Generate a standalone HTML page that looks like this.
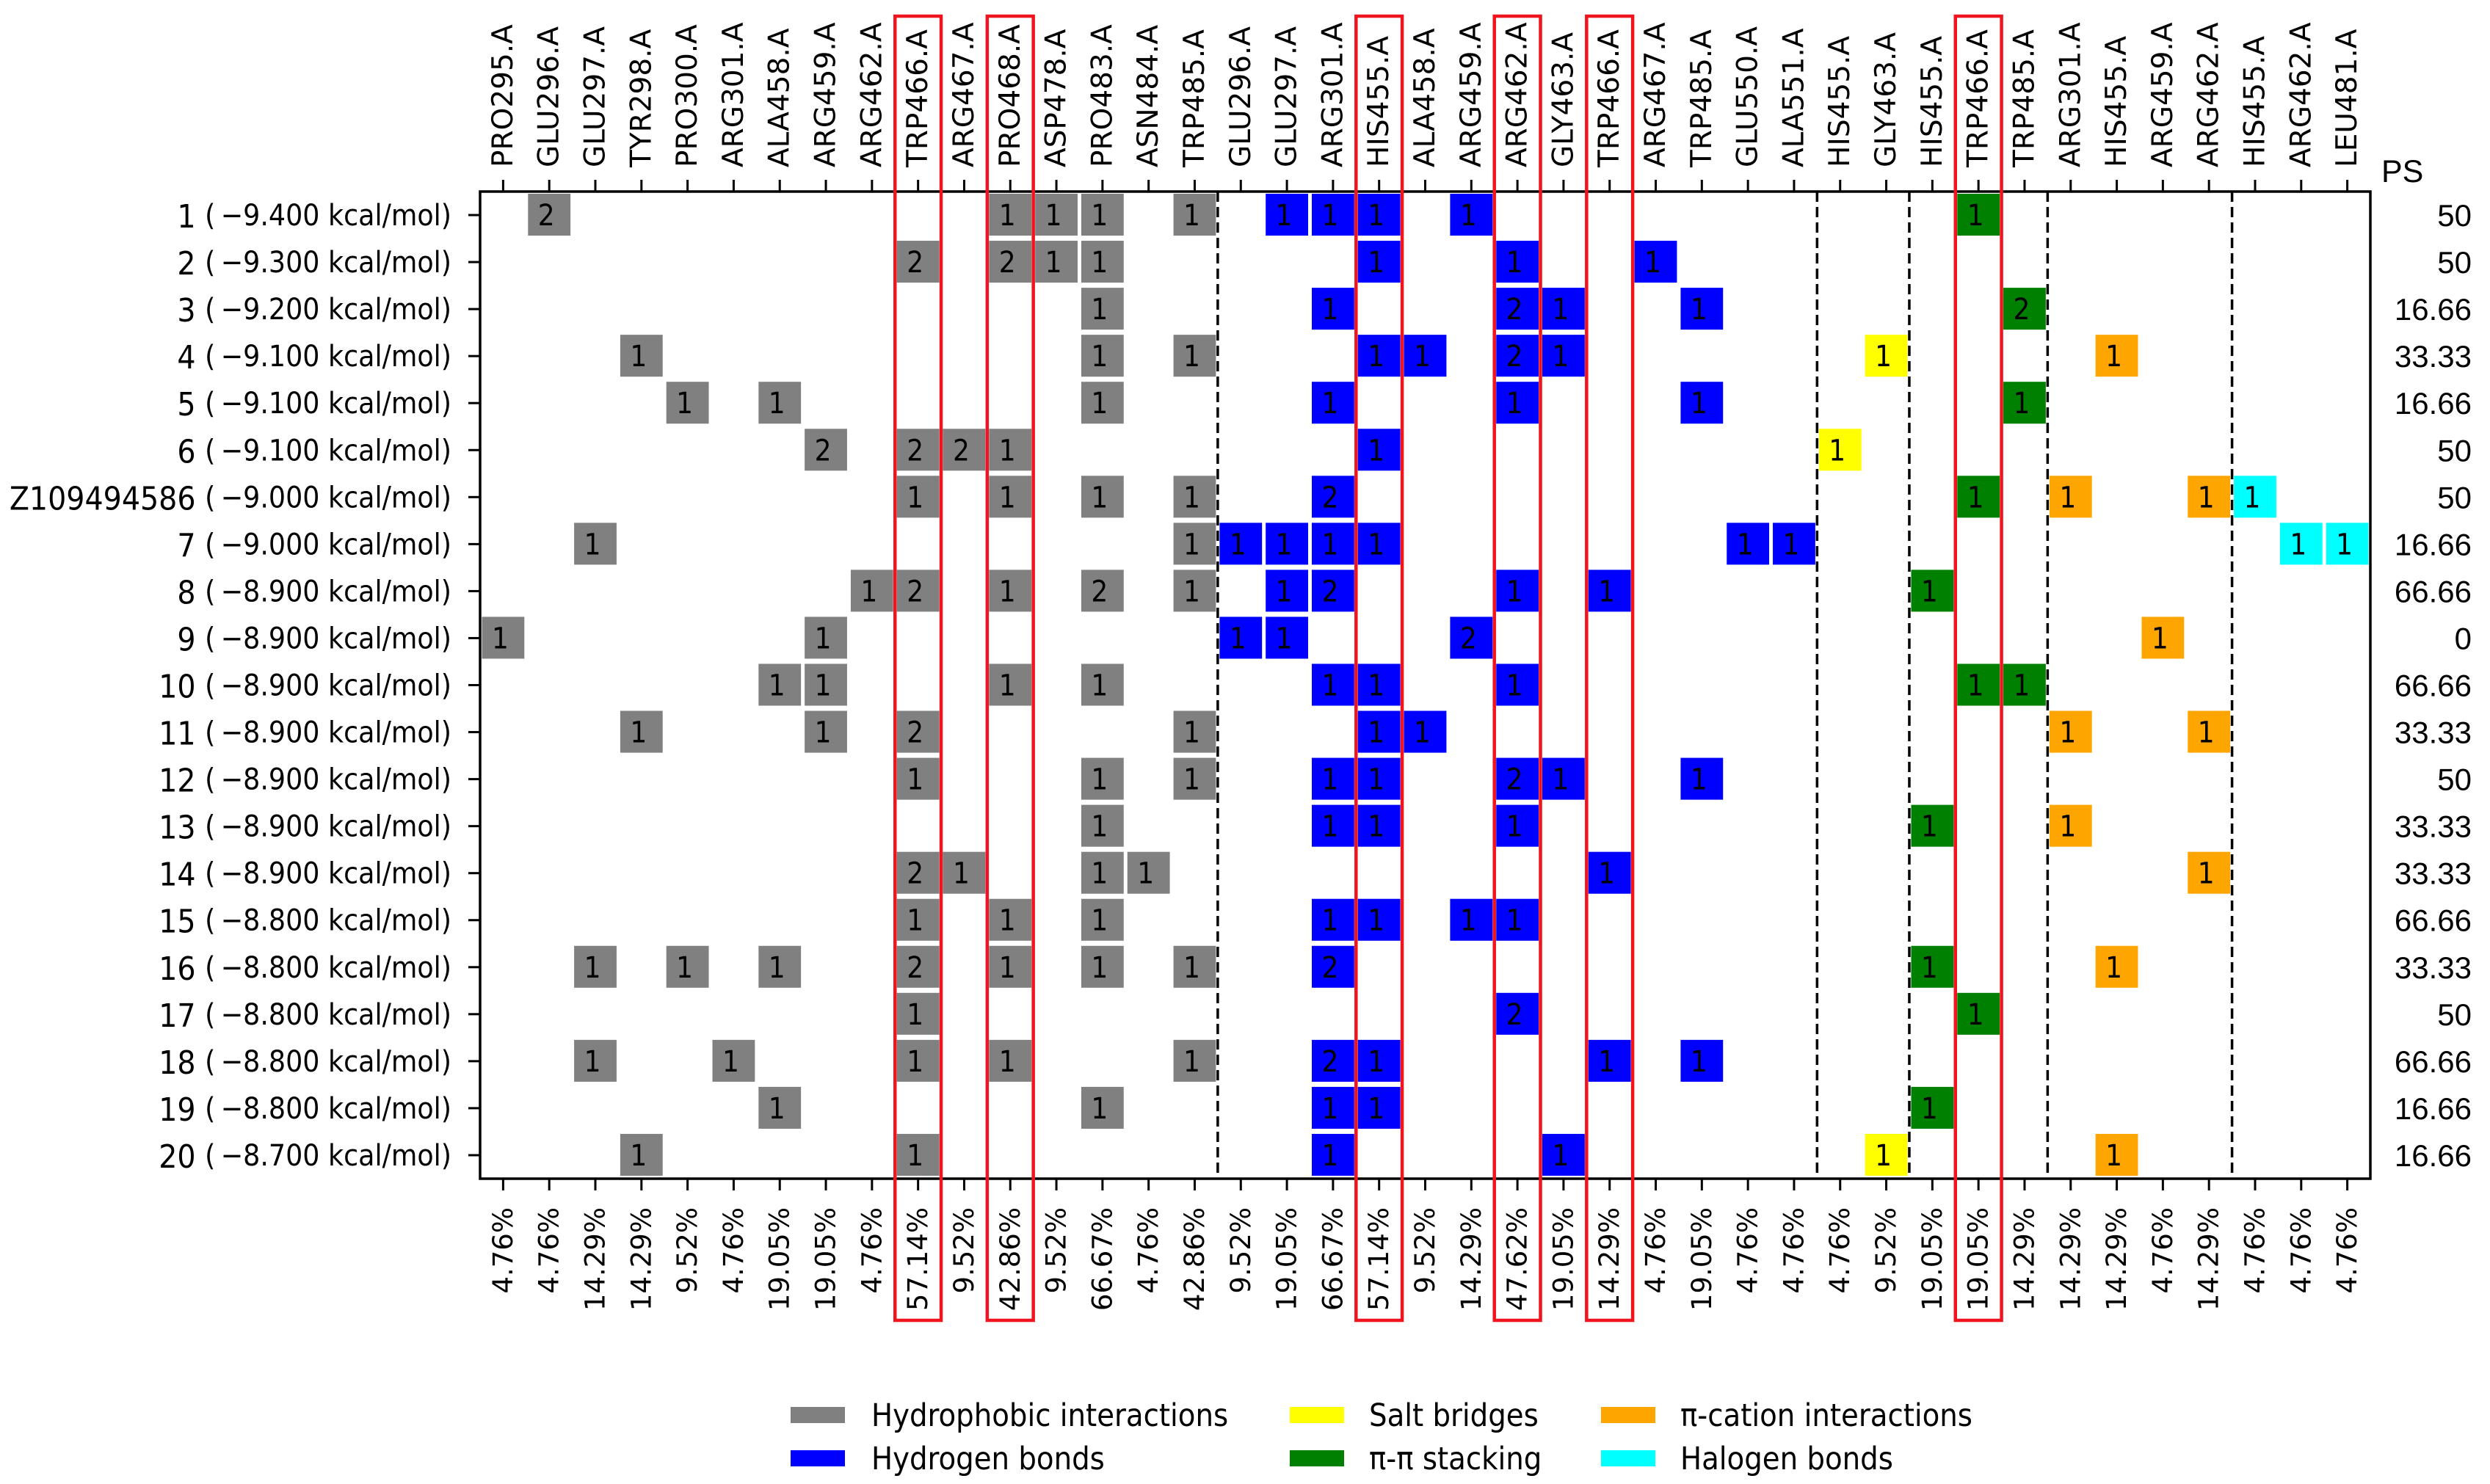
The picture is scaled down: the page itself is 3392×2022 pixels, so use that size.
<!DOCTYPE html>
<html><head><meta charset="utf-8"><style>
html,body{margin:0;padding:0;background:#fff}
svg{display:block}
text{font-family:"DejaVu Sans","Liberation Sans",sans-serif;fill:#000}
</style></head><body>
<svg id="chart" xmlns="http://www.w3.org/2000/svg" width="3392" height="2022" viewBox="0 0 3392 2022">
<g id="plot"></g>
</svg>
<script>
const residues = ["PRO295.A","GLU296.A","GLU297.A","TYR298.A","PRO300.A","ARG301.A","ALA458.A","ARG459.A","ARG462.A","TRP466.A","ARG467.A","PRO468.A","ASP478.A","PRO483.A","ASN484.A","TRP485.A",
"GLU296.A","GLU297.A","ARG301.A","HIS455.A","ALA458.A","ARG459.A","ARG462.A","GLY463.A","TRP466.A","ARG467.A","TRP485.A","GLU550.A","ALA551.A",
"HIS455.A","GLY463.A","HIS455.A","TRP466.A","TRP485.A","ARG301.A","HIS455.A","ARG459.A","ARG462.A","HIS455.A","ARG462.A","LEU481.A"];
const groupSizes = [16,13,2,3,4,3];
const groupNames = ["Hydrophobic interactions","Hydrogen bonds","Salt bridges","π-π stacking","π-cation interactions","Halogen bonds"];
const groupColors = ["#808080","#0000ff","#ffff00","#008000","#ffa500","#00ffff"];
const percentLabels = ["4.76%","4.76%","14.29%","14.29%","9.52%","4.76%","19.05%","19.05%","4.76%","57.14%","9.52%","42.86%","9.52%","66.67%","4.76%","42.86%",
"9.52%","19.05%","66.67%","57.14%","9.52%","14.29%","47.62%","19.05%","14.29%","4.76%","19.05%","4.76%","4.76%",
"4.76%","9.52%","19.05%","19.05%","14.29%","14.29%","14.29%","4.76%","14.29%","4.76%","4.76%","4.76%"];
const highlighted = [9,11,19,22,24,32];
const rowIds = ["1","2","3","4","5","6","Z109494586","7","8","9","10","11","12","13","14","15","16","17","18","19","20"];
const rowEnergies = ["−9.400","−9.300","−9.200","−9.100","−9.100","−9.100","−9.000","−9.000","−8.900","−8.900","−8.900","−8.900","−8.900","−8.900","−8.900","−8.800","−8.800","−8.800","−8.800","−8.800","−8.700"];
const psValues = ["50","50","16.66","33.33","16.66","50","50","16.66","66.66","0","66.66","33.33","50","33.33","33.33","66.66","33.33","50","66.66","16.66","16.66"];
// [row, column, count]
const cells = [
[0,1,2],[0,11,1],[0,12,1],[0,13,1],[0,15,1],[0,17,1],[0,18,1],[0,19,1],[0,21,1],[0,32,1],
[1,9,2],[1,11,2],[1,12,1],[1,13,1],[1,19,1],[1,22,1],[1,25,1],
[2,13,1],[2,18,1],[2,22,2],[2,23,1],[2,26,1],[2,33,2],
[3,3,1],[3,13,1],[3,15,1],[3,19,1],[3,20,1],[3,22,2],[3,23,1],[3,30,1],[3,35,1],
[4,4,1],[4,6,1],[4,13,1],[4,18,1],[4,22,1],[4,26,1],[4,33,1],
[5,7,2],[5,9,2],[5,10,2],[5,11,1],[5,19,1],[5,29,1],
[6,9,1],[6,11,1],[6,13,1],[6,15,1],[6,18,2],[6,32,1],[6,34,1],[6,37,1],[6,38,1],
[7,2,1],[7,15,1],[7,16,1],[7,17,1],[7,18,1],[7,19,1],[7,27,1],[7,28,1],[7,39,1],[7,40,1],
[8,8,1],[8,9,2],[8,11,1],[8,13,2],[8,15,1],[8,17,1],[8,18,2],[8,22,1],[8,24,1],[8,31,1],
[9,0,1],[9,7,1],[9,16,1],[9,17,1],[9,21,2],[9,36,1],
[10,6,1],[10,7,1],[10,11,1],[10,13,1],[10,18,1],[10,19,1],[10,22,1],[10,32,1],[10,33,1],
[11,3,1],[11,7,1],[11,9,2],[11,15,1],[11,19,1],[11,20,1],[11,34,1],[11,37,1],
[12,9,1],[12,13,1],[12,15,1],[12,18,1],[12,19,1],[12,22,2],[12,23,1],[12,26,1],
[13,13,1],[13,18,1],[13,19,1],[13,22,1],[13,31,1],[13,34,1],
[14,9,2],[14,10,1],[14,13,1],[14,14,1],[14,24,1],[14,37,1],
[15,9,1],[15,11,1],[15,13,1],[15,18,1],[15,19,1],[15,21,1],[15,22,1],
[16,2,1],[16,4,1],[16,6,1],[16,9,2],[16,11,1],[16,13,1],[16,15,1],[16,18,2],[16,31,1],[16,35,1],
[17,9,1],[17,22,2],[17,32,1],
[18,2,1],[18,5,1],[18,9,1],[18,11,1],[18,15,1],[18,18,2],[18,19,1],[18,24,1],[18,26,1],
[19,6,1],[19,13,1],[19,18,1],[19,19,1],[19,31,1],
[20,3,1],[20,9,1],[20,18,1],[20,23,1],[20,30,1],[20,35,1]
];

const NS="http://www.w3.org/2000/svg";
const g=document.getElementById('plot');
const L=654,T=261,R=3229,B=1606;
const nC=residues.length,nR=rowIds.length;
const cw=(R-L)/nC, rh=(B-T)/nR;
const xL=i=>L+i*cw, xC=i=>L+(i+0.5)*cw, yT=j=>T+j*rh, yC=j=>T+(j+0.5)*rh;
function mk(tag,attrs,txt,parent){const e=document.createElementNS(NS,tag);for(const k in attrs)e.setAttribute(k,attrs[k]);if(txt!==undefined)e.textContent=txt;(parent||g).appendChild(e);return e;}
const groupOf=[];groupSizes.forEach((n,gi)=>{for(let k=0;k<n;k++)groupOf.push(gi);});
const COND='font-family:"DejaVu Sans Condensed","DejaVu Sans",sans-serif';

cells.forEach(c=>{
  const [r,ci,v]=c;
  const rect=mk('rect',{x:xL(ci)+2.5,y:yT(r)+3,width:cw-5,height:rh-7,fill:groupColors[groupOf[ci]]});
  
  
  const t=mk('text',{x:xC(ci)-4,y:yC(r)+14,'text-anchor':'middle','font-size':40,style:COND},String(v));
  
  
});
let acc=0;
groupSizes.slice(0,-1).forEach(n=>{acc+=n;
  const l=mk('line',{x1:xL(acc),x2:xL(acc),y1:T,y2:B,stroke:'#000','stroke-width':3.5,'stroke-dasharray':'14 7'});
  
  
});
const fr=mk('rect',{x:L,y:T,width:R-L,height:B-T,fill:'none',stroke:'#000','stroke-width':3.5});


residues.forEach((name,i)=>{
  mk('line',{x1:xC(i),x2:xC(i),y1:T-16,y2:T,stroke:'#000','stroke-width':3});
  mk('line',{x1:xC(i),x2:xC(i),y1:B,y2:B+16,stroke:'#000','stroke-width':3});
  const t=mk('text',{x:0,y:0,'font-size':39,'text-anchor':'start','dominant-baseline':'central',transform:`translate(${xC(i)},228) rotate(-90)`},name);
  
  
  const p=mk('text',{x:0,y:0,'font-size':37,'text-anchor':'end','dominant-baseline':'central',transform:`translate(${xC(i)},1645) rotate(-90)`},percentLabels[i]);
  
  
});
rowIds.forEach((id,j)=>{
  mk('line',{x1:L-16,x2:L,y1:yC(j),y2:yC(j),stroke:'#000','stroke-width':3});
  const t=mk('text',{x:615,y:yC(j)+17,'text-anchor':'end',style:COND});
  
  
  mk('tspan',{'font-size':44},id+' ',t);
  mk('tspan',{'font-size':40.5,dy:-3},'(\u2009'+rowEnergies[j]+' kcal/mol)',t);
  const s=mk('text',{x:3367,y:yC(j)+15,'font-size':42,'text-anchor':'end',style:'font-family:"Liberation Sans",sans-serif'},psValues[j]);
  
  
});
const ps=mk('text',{x:3244,y:248,'font-size':43,style:'font-family:"Liberation Sans",sans-serif'},'PS');


highlighted.forEach(ci=>{
  const h=mk('rect',{x:xL(ci),y:22,width:cw,height:1777,fill:'none',stroke:'#f0141e','stroke-width':4.5});
  
  
});
const legX=[[1077,1187],[1757,1865],[2181,2289]];
const legY=[1917,1976];
groupNames.forEach((nm,k)=>{
  const col=Math.floor(k/2),row=k%2;
  const r=mk('rect',{x:legX[col][0],y:legY[row],width:74,height:22,fill:groupColors[k]});
  
  
  const t=mk('text',{x:legX[col][1],y:legY[row]+26,'font-size':43,style:COND},nm);
  
  
});
</script>
</body></html>
